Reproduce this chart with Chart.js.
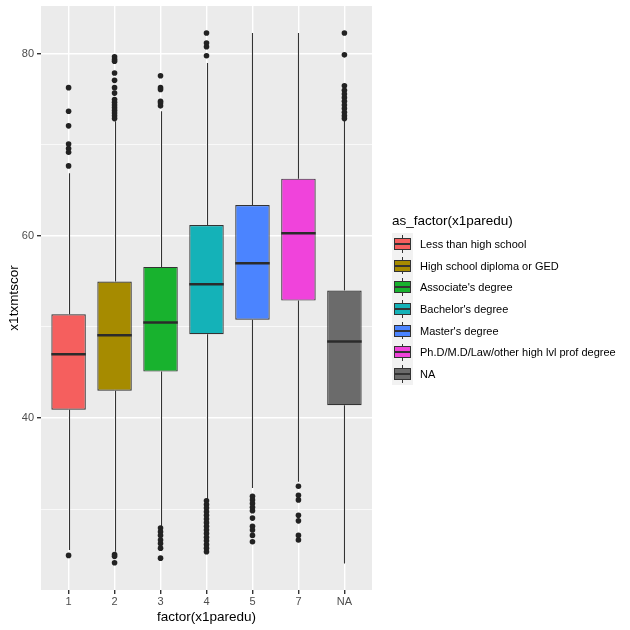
<!DOCTYPE html>
<html>
<head>
<meta charset="utf-8">
<script src="https://cdn.jsdelivr.net/npm/chart.js@4"></script>
<style>
  html, body { margin:0; padding:0; background:#fff; }
  #wrap { position:relative; width:630px; height:630px; font-family:'Liberation Sans', Arial, sans-serif; }
  #c { position:absolute; left:0; top:0; }
  .lg-title { position:absolute; font-size:13.5px; color:#000; white-space:nowrap; line-height:16px; }
  .lg-label { position:absolute; font-size:11px; color:#000; white-space:nowrap; line-height:14px; }
  .lg-key { position:absolute; background:#F2F2F2; }
  .lg-whisk { position:absolute; width:1px; background:#333; }
  .lg-box { position:absolute; box-sizing:border-box; border:1px solid #333; }
  .lg-med { position:absolute; height:2px; background:#333; }
</style>
</head>
<body>
<div id="wrap">
  <canvas id="c" width="630" height="630"></canvas>
  <div id="legend"></div>
</div>
<script>
// ---- data ----
const categories = ['1', '2', '3', '4', '5', '7', 'NA'];
const legendTitle = 'as_factor(x1paredu)';
const legendLabels = ['Less than high school', 'High school diploma or GED', "Associate's degree",
  "Bachelor's degree", "Master's degree", 'Ph.D/M.D/Law/other high lvl prof degree', 'NA'];
const boxColors = ['#F55F5E', '#A68B00', '#18B22E', '#14B2B8', '#4B84FF', '#F043DB', '#6B6B6B'];

const q1Values     = [40.9, 43.0, 45.1, 49.2, 50.8, 52.9, 41.4];
const medianValues = [47.0, 49.1, 50.5, 54.7, 57.0, 60.3, 48.4];
const q3Values     = [51.4, 55.0, 56.6, 61.2, 63.4, 66.3, 54.0];
const whiskerLow   = [25.5, 25.3, 28.1, 31.1, 32.3, 33.0, 24.0];
const whiskerHigh  = [66.9, 72.6, 73.7, 79.0, 82.3, 82.3, 72.7];

const outliers1  = [76.3, 73.7, 72.1, 70.1, 69.6, 69.2, 67.7, 24.9];
const outliers2  = [79.7, 79.4, 79.2, 77.9, 77.1, 76.3, 75.7, 75.0, 74.7, 74.4, 74.1, 73.8, 73.5, 73.2, 72.9, 25.0, 24.8, 24.1];
const outliers3  = [77.6, 76.3, 76.1, 74.8, 74.6, 74.3, 27.9, 27.5, 27.1, 26.6, 26.2, 25.7, 24.6];
const outliers4  = [82.3, 81.2, 80.8, 79.8, 30.9, 30.5, 30.1, 29.7, 29.3, 28.9, 28.5, 28.1, 27.7, 27.3, 26.9, 26.5, 26.1, 25.7, 25.3];
const outliers5  = [31.4, 31.0, 30.6, 30.2, 29.8, 29.0, 28.1, 27.7, 27.1, 26.4];
const outliers7  = [32.5, 31.5, 31.0, 29.3, 28.7, 27.1, 26.6];
const outliersNA = [82.3, 79.9, 76.5, 76.0, 75.6, 75.2, 74.8, 74.4, 74.0, 73.6, 73.2, 72.9];
const outlierLists = [outliers1, outliers2, outliers3, outliers4, outliers5, outliers7, outliersNA];

const yMin = 21.1, yMax = 85.27;
const yTickStep = 10;
const yLabelledTicks = [40, 60, 80];

// ---- build datasets ----
const boxData = categories.map((c, i) => ({ x: i, y: [q1Values[i], q3Values[i]] }));
const outlierData = [];
outlierLists.forEach((list, i) => list.forEach(v => outlierData.push({ x: i, y: v })));

const boxPlugin = {
  id: 'boxParts',
  beforeDraw(chart) {
    const a = chart.chartArea, ctx = chart.ctx;
    ctx.save();
    ctx.fillStyle = '#EBEBEB';
    ctx.fillRect(a.left, a.top, a.right - a.left, a.bottom - a.top);
    ctx.restore();
  },
  beforeDatasetsDraw(chart) {
    const xs = chart.scales.x, ys = chart.scales.y, ctx = chart.ctx;
    ctx.save();
    ctx.strokeStyle = '#333333';
    ctx.lineWidth = 1.1;
    categories.forEach((c, i) => {
      const x = Math.round(xs.getPixelForValue(i)) + 0.5;
      ctx.beginPath();
      ctx.moveTo(x, ys.getPixelForValue(whiskerHigh[i]));
      ctx.lineTo(x, ys.getPixelForValue(q3Values[i]));
      ctx.moveTo(x, ys.getPixelForValue(q1Values[i]));
      ctx.lineTo(x, ys.getPixelForValue(whiskerLow[i]));
      ctx.stroke();
    });
    ctx.restore();
  },
  afterDatasetsDraw(chart) {
    const ys = chart.scales.y, ctx = chart.ctx;
    const meta = chart.getDatasetMeta(0);
    ctx.save();
    ctx.strokeStyle = '#2B2B2B';
    ctx.lineWidth = 2.6;
    meta.data.forEach((bar, i) => {
      const y = ys.getPixelForValue(medianValues[i]);
      ctx.beginPath();
      ctx.moveTo(bar.x - bar.width / 2, y);
      ctx.lineTo(bar.x + bar.width / 2, y);
      ctx.stroke();
    });
    ctx.restore();
  }
};

new Chart(document.getElementById('c'), {
  type: 'bar',
  data: {
    datasets: [
      {
        type: 'bar',
        data: boxData,
        backgroundColor: boxColors,
        borderColor: '#333333',
        borderWidth: 1.2,
        borderSkipped: false,
        categoryPercentage: 1,
        barPercentage: 0.75,
        order: 2
      },
      {
        type: 'scatter',
        data: outlierData,
        pointRadius: 2.8,
        pointBackgroundColor: '#222222',
        pointBorderWidth: 0,
        showLine: false,
        order: 1
      }
    ]
  },
  options: {
    responsive: false,
    animation: false,
    devicePixelRatio: 1,
    layout: { padding: { left: 0, top: 6, right: 258, bottom: 0 } },
    plugins: { legend: { display: false }, tooltip: { enabled: false } },
    scales: {
      x: {
        type: 'linear',
        offset: false,
        min: -0.6,
        max: categories.length - 1 + 0.6,
        afterBuildTicks: s => { s.ticks = categories.map((c, i) => ({ value: i })); },
        afterFit: s => { s.height = 40; s.paddingLeft = 0; s.paddingRight = 0; },
        ticks: {
          callback: v => categories[v],
          color: '#4D4D4D',
          font: { family: "'Liberation Sans', Arial", size: 11 },
          padding: 1,
          maxRotation: 0,
          autoSkip: false
        },
        grid: {
          offset: false,
          color: '#FFFFFF',
          lineWidth: 1.4,
          tickColor: '#333333',
          tickLength: 4,
          drawOnChartArea: true
        },
        border: { display: false },
        title: {
          display: true,
          text: 'factor(x1paredu)',
          color: '#000000',
          font: { family: "'Liberation Sans', Arial", size: 13.5 },
          padding: { top: 0, bottom: 5 }
        }
      },
      y: {
        type: 'linear',
        min: yMin,
        max: yMax,
        afterFit: s => { s.width = 41; s.paddingTop = 0; s.paddingBottom = 0; },
        ticks: {
          stepSize: yTickStep,
          includeBounds: false,
          callback: v => (yLabelledTicks.includes(v) ? String(v) : ''),
          color: '#4D4D4D',
          font: { family: "'Liberation Sans', Arial", size: 11 },
          padding: 3
        },
        grid: {
          color: '#FFFFFF',
          lineWidth: ctx => (ctx.tick && yLabelledTicks.includes(ctx.tick.value) ? 1.4 : 0.7),
          tickColor: ctx => (ctx.tick && yLabelledTicks.includes(ctx.tick.value) ? '#333333' : 'rgba(0,0,0,0)'),
          tickLength: 4
        },
        border: { display: false },
        title: {
          display: true,
          text: 'x1txmtscor',
          color: '#000000',
          font: { family: "'Liberation Sans', Arial", size: 13.5 },
          padding: { top: 6, bottom: 0 }
        }
      }
    }
  },
  plugins: [boxPlugin]
});

// ---- legend (HTML, real text) ----
(function buildLegend() {
  const lg = document.getElementById('legend');
  const left = 392, titleTop = 213, rowTop = 233, rowH = 21.7, keyW = 21;
  const t = document.createElement('div');
  t.className = 'lg-title';
  t.style.left = left + 'px';
  t.style.top = titleTop + 'px';
  t.textContent = legendTitle;
  lg.appendChild(t);
  legendLabels.forEach((lab, i) => {
    const top = rowTop + i * rowH;
    const cy = top + rowH / 2;
    const key = document.createElement('div');
    key.className = 'lg-key';
    key.style.left = left + 'px'; key.style.top = top + 'px';
    key.style.width = keyW + 'px'; key.style.height = (rowH + 0.5) + 'px';
    lg.appendChild(key);
    const wh = document.createElement('div');
    wh.className = 'lg-whisk';
    wh.style.left = (left + keyW / 2 - 0.5) + 'px';
    wh.style.top = (top + 2) + 'px';
    wh.style.height = (rowH - 4) + 'px';
    lg.appendChild(wh);
    const box = document.createElement('div');
    box.className = 'lg-box';
    box.style.left = (left + 2) + 'px';
    box.style.width = (keyW - 4) + 'px';
    box.style.top = (cy - 6) + 'px';
    box.style.height = '12px';
    box.style.background = boxColors[i];
    lg.appendChild(box);
    const md = document.createElement('div');
    md.className = 'lg-med';
    md.style.left = (left + 2) + 'px';
    md.style.width = (keyW - 4) + 'px';
    md.style.top = (cy - 1) + 'px';
    lg.appendChild(md);
    const l = document.createElement('div');
    l.className = 'lg-label';
    l.style.left = '420px';
    l.style.top = (cy - 7) + 'px';
    l.textContent = lab;
    lg.appendChild(l);
  });
})();
</script>
</body>
</html>
